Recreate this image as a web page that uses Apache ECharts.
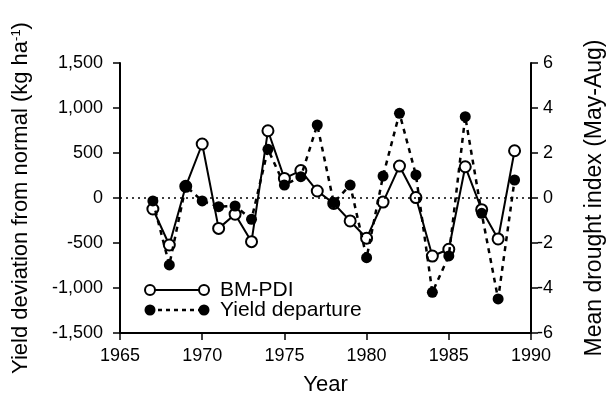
<!DOCTYPE html>
<html>
<head>
<meta charset="utf-8">
<script src="https://cdn.jsdelivr.net/npm/echarts@6/dist/echarts.min.js"></script>
<style>
    html, body, #main {
        width: 611px;
        height: 393px;
        margin: 0;
        background: #fff;
    }
</style>
</head>
<body>
<div id="main"></div>
<script>
    // years on the x axis
    var years = [1967, 1968, 1969, 1970, 1971, 1972, 1973, 1974, 1975, 1976, 1977, 1978,
                 1979, 1980, 1981, 1982, 1983, 1984, 1985, 1986, 1987, 1988, 1989];
    // BM-PDI, mean drought index (right axis)
    var bmPdi = [-0.49, -2.09, 0.52, 2.40, -1.35, -0.72, -1.94, 2.99, 0.87, 1.22, 0.31, -0.24,
                 -1.02, -1.79, -0.18, 1.42, 0.02, -2.58, -2.28, 1.39, -0.52, -1.82, 2.10];
    // yield departure, kg/ha (left axis)
    var yieldDep = [-33, -744, 133, -33, -96, -89, -237, 541, 144, 237, 811, -52,
                    144, -663, 244, 941, 256, -1048, -644, 904, -170, -1122, 200];
    var legendNames = ['BM-PDI', 'Yield departure'];

    var font = '"Liberation Sans", Arial, Helvetica, sans-serif';

    function pairs(vals) {
        return years.map(function (y, i) { return [y, vals[i]]; });
    }

    var chart = echarts.init(document.getElementById('main'));

    var axisLine = {show: true, onZero: false, lineStyle: {color: '#000', width: 2}};
    var axisTick = {show: true, inside: false, length: 7, lineStyle: {color: '#000', width: 1.5}};

    chart.setOption({
        animation: false,
        backgroundColor: '#fff',
        grid: {left: 120, right: 80, top: 63, bottom: 60, outerBoundsMode: 'none', containLabel: false},
        xAxis: {
            type: 'value',
            min: 1965,
            max: 1990,
            interval: 5,
            name: 'Year',
            nameLocation: 'middle',
            nameGap: 41,
            nameTextStyle: {fontFamily: font, fontSize: 22, color: '#000'},
            axisLine: axisLine,
            axisTick: axisTick,
            splitLine: {show: false},
            axisLabel: {
                fontFamily: font, fontSize: 18, color: '#000', margin: 14,
                formatter: function (v) { return String(v); }
            }
        },
        yAxis: [
            {
                type: 'value',
                position: 'left',
                min: -1500,
                max: 1500,
                interval: 500,
                name: 'Yield deviation from normal (kg ha{sup|-1})',
                nameLocation: 'middle',
                nameRotate: 90,
                nameGap: 88,
                nameTextStyle: {
                    fontFamily: font, fontSize: 22, color: '#000',
                    rich: {sup: {fontFamily: font, fontSize: 13, color: '#000', verticalAlign: 'top'}}
                },
                axisLine: axisLine,
                axisTick: axisTick,
                splitLine: {show: false},
                axisLabel: {
                    fontFamily: font, fontSize: 18, color: '#000', margin: 17,
                    formatter: function (v) { return v.toLocaleString('en-US'); }
                }
            },
            {
                type: 'value',
                position: 'right',
                min: -6,
                max: 6,
                interval: 2,
                name: 'Mean drought index (May-Aug)',
                nameLocation: 'middle',
                nameRotate: 90,
                nameGap: 52,
                nameTextStyle: {fontFamily: font, fontSize: 23, color: '#000'},
                axisLine: axisLine,
                axisTick: axisTick,
                splitLine: {show: false},
                axisLabel: {fontFamily: font, fontSize: 18, color: '#000', margin: 22, align: 'right'}
            }
        ],
        series: [
            {
                name: legendNames[0],
                type: 'line',
                yAxisIndex: 1,
                data: pairs(bmPdi),
                symbol: 'circle',
                symbolSize: 11,
                z: 2,
                lineStyle: {color: '#000', width: 2},
                itemStyle: {color: '#fff', borderColor: '#000', borderWidth: 2},
                markLine: {
                    silent: true,
                    symbol: 'none',
                    label: {show: false},
                    lineStyle: {color: '#000', width: 1.6, type: [2, 4]},
                    data: [{yAxis: 0}]
                }
            },
            {
                name: legendNames[1],
                type: 'line',
                yAxisIndex: 0,
                data: pairs(yieldDep),
                symbol: 'circle',
                symbolSize: 11,
                z: 3,
                lineStyle: {color: '#000', width: 2.5, type: [5, 5]},
                itemStyle: {color: '#000', borderColor: '#000', borderWidth: 0}
            }
        ],
        // legend drawn by hand: circle - line - circle, as in the figure
        graphic: [
            {type: 'line', shape: {x1: 150, y1: 290, x2: 204, y2: 290}, style: {stroke: '#000', lineWidth: 2}},
            {type: 'circle', shape: {cx: 150, cy: 290, r: 5}, style: {fill: '#fff', stroke: '#000', lineWidth: 2}},
            {type: 'circle', shape: {cx: 204, cy: 290, r: 5}, style: {fill: '#fff', stroke: '#000', lineWidth: 2}},
            {type: 'text', x: 220, y: 290, style: {text: legendNames[0], font: '21px ' + font, fill: '#000', verticalAlign: 'middle'}},
            {type: 'line', shape: {x1: 150, y1: 310, x2: 204, y2: 310}, style: {stroke: '#000', lineWidth: 2.5, lineDash: [4, 4]}},
            {type: 'circle', shape: {cx: 150, cy: 310, r: 5.5}, style: {fill: '#000'}},
            {type: 'circle', shape: {cx: 204, cy: 310, r: 5.5}, style: {fill: '#000'}},
            {type: 'text', x: 220, y: 310, style: {text: legendNames[1], font: '21px ' + font, fill: '#000', verticalAlign: 'middle'}}
        ]
    });
</script>
</body>
</html>
